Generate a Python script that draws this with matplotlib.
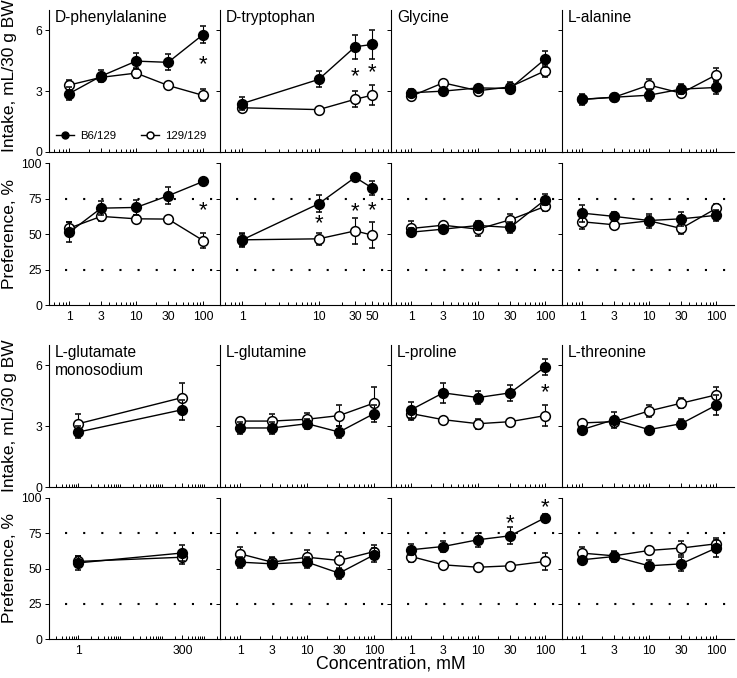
import matplotlib

matplotlib.use("Agg")
import matplotlib.pyplot as plt
from matplotlib.lines import Line2D
from matplotlib.ticker import FixedLocator, LogLocator, NullFormatter

plt.rcParams["font.family"] = ["Liberation Sans", "DejaVu Sans"]

# panels, in reading order
acids = [
    "D-phenylalanine", "D-tryptophan", "Glycine", "L-alanine",
    "L-glutamate\nmonosodium", "L-glutamine", "L-proline", "L-threonine",
]
conc = [
    [1, 3, 10, 30, 100], [1, 10, 30, 50], [1, 3, 10, 30, 100], [1, 3, 10, 30, 100],
    [1, 300], [1, 3, 10, 30, 100], [1, 3, 10, 30, 100], [1, 3, 10, 30, 100],
]

# intake, mL/30 g BW
intake_b6 = [
    [2.88, 3.74, 4.48, 4.42, 5.79], [2.39, 3.58, 5.19, 5.30],
    [2.92, 3.00, 3.16, 3.13, 4.58], [2.59, 2.70, 2.80, 3.10, 3.18],
    [2.71, 3.81], [2.91, 2.91, 3.12, 2.71, 3.62],
    [3.81, 4.64, 4.41, 4.64, 5.92], [2.83, 3.32, 2.83, 3.12, 4.03],
]
intake_b6_err = [
    [0.30, 0.30, 0.40, 0.40, 0.43], [0.30, 0.40, 0.60, 0.70],
    [0.20, 0.08, 0.15, 0.20, 0.40], [0.25, 0.10, 0.30, 0.25, 0.30],
    [0.30, 0.50], [0.30, 0.30, 0.25, 0.30, 0.40],
    [0.40, 0.50, 0.30, 0.40, 0.40], [0.10, 0.40, 0.10, 0.25, 0.50],
]
intake_129 = [
    [3.30, 3.68, 3.89, 3.28, 2.79], [2.18, 2.09, 2.60, 2.80],
    [2.75, 3.41, 3.02, 3.21, 4.00], [2.60, 2.70, 3.30, 2.90, 3.80],
    [3.12, 4.41], [3.25, 3.25, 3.34, 3.52, 4.14],
    [3.62, 3.32, 3.12, 3.22, 3.52], [3.16, 3.22, 3.75, 4.13, 4.54],
]
intake_129_err = [
    [0.25, 0.20, 0.25, 0.10, 0.30], [0.20, 0.10, 0.40, 0.50],
    [0.20, 0.10, 0.20, 0.25, 0.30], [0.15, 0.10, 0.30, 0.20, 0.35],
    [0.50, 0.70], [0.15, 0.35, 0.30, 0.50, 0.80],
    [0.30, 0.10, 0.25, 0.15, 0.50], [0.10, 0.15, 0.30, 0.25, 0.40],
]

# preference, %
pref_b6 = [
    [51.1, 68.2, 68.7, 76.9, 87.0], [45.9, 71.3, 89.9, 82.4],
    [51.3, 53.4, 56.0, 54.6, 74.1], [64.7, 62.4, 59.5, 60.7, 63.1],
    [54.0, 61.0], [54.5, 53.3, 54.5, 46.7, 59.7],
    [63.3, 65.6, 70.4, 73.2, 86.0], [56.2, 58.5, 51.9, 53.3, 64.5],
]
pref_b6_err = [
    [7, 5, 5, 6, 1.5], [5, 6, 1.5, 5],
    [3, 2, 3, 4, 4], [6, 3, 3, 5, 4],
    [5, 6], [4, 4, 4, 4, 5],
    [4, 4, 5, 6, 3], [2, 4, 4, 5, 6],
]
pref_129 = [
    [54.1, 62.4, 60.7, 60.5, 45.4], [45.9, 46.6, 52.2, 49.2],
    [53.9, 56.2, 53.4, 60.0, 69.4], [58.6, 56.5, 59.3, 53.9, 68.0],
    [55.0, 58.0], [60.4, 54.5, 58.0, 55.7, 62.0],
    [58.5, 52.6, 50.9, 51.9, 55.0], [60.9, 59.0, 62.8, 64.5, 67.5],
]
pref_129_err = [
    [4, 3, 3, 2, 5], [4, 4, 9, 9],
    [5, 2, 5, 4, 3], [5, 2, 5, 4, 3],
    [4, 5], [5, 4, 5, 6, 5],
    [4, 2, 2, 2, 6], [4, 3, 2, 5, 4],
]

# significance marks (concentration, value)
intake_stars = [[(100, 4.5)], [(30, 3.87), (50, 4.1)], [], [], [], [], [(100, 4.8)], []]
pref_stars = [[(100, 68.7)], [(10, 59.5), (30, 68.2), (50, 69.0)], [], [], [], [],
              [(30, 84.6), (100, 95.3)], []]

W, H = 737, 678
col_left = [49, 220, 391, 562]
col_w = 172
rows = [(10, 152), (163, 305), (345, 487), (498, 639)]
xlims = [(0.5, 185), (0.51, 91), (0.5, 185), (0.5, 185),
         (0.2, 2500), (0.5, 185), (0.5, 185), (0.5, 185)]

fig = plt.figure(figsize=(W / 100, H / 100), dpi=100)


def make_ax(col, row):
    top, bottom = rows[row]
    return fig.add_axes([col_left[col] / W, 1 - bottom / H, col_w / W, (bottom - top) / H])


def style(ax, xs, xlim, show_xlabels, show_ylabels, yticks):
    ax.set_xscale("log")
    ax.set_xlim(*xlim)
    ax.spines[["top", "right"]].set_visible(False)
    for side in ("left", "bottom"):
        ax.spines[side].set_linewidth(0.8)
    ax.xaxis.set_major_locator(FixedLocator(xs))
    ax.xaxis.set_minor_locator(LogLocator(base=10, subs=range(1, 10), numticks=30))
    ax.xaxis.set_minor_formatter(NullFormatter())
    ax.set_xticklabels([str(v) for v in xs] if show_xlabels else [])
    ax.tick_params(axis="x", which="both", direction="in", width=0.7, labelsize=8.7, pad=4)
    ax.tick_params(axis="x", which="major", length=3)
    ax.tick_params(axis="x", which="minor", length=2.5)
    ax.set_yticks(yticks)
    ax.set_yticklabels([str(v) for v in yticks] if show_ylabels else [])
    ax.tick_params(axis="y", direction="out", length=3, width=0.7, labelsize=8.7, pad=2)


def draw(ax, xs, b6, b6e, w, we):
    common = dict(fmt="-o", color="black", lw=1.0, elinewidth=0.8, capsize=2.5,
                  capthick=0.8, ms=7, mew=1.1, mec="black", clip_on=False)
    ax.errorbar(xs, w, yerr=we, mfc="white", zorder=3, **common)
    ax.errorbar(xs, b6, yerr=b6e, mfc="black", zorder=4, **common)


def stars(ax, marks):
    for x, y in marks:
        ax.annotate("*", (x, y), xytext=(0, -6.5), textcoords="offset points",
                    ha="center", va="baseline", fontsize=16)


for i, name in enumerate(acids):
    g, c = divmod(i, 4)
    xs = conc[i]

    ax_in = make_ax(c, 2 * g)
    draw(ax_in, xs, intake_b6[i], intake_b6_err[i], intake_129[i], intake_129_err[i])
    ax_in.set_ylim(0, 7)
    style(ax_in, xs, xlims[i], False, c == 0, [0, 3, 6])
    stars(ax_in, intake_stars[i])
    ax_in.text(0.035, 1.0, name, transform=ax_in.transAxes, ha="left", va="top",
               fontsize=11.2, linespacing=1.25)

    ax_pr = make_ax(c, 2 * g + 1)
    for level in (25, 75):
        ax_pr.axhline(level, color="black", lw=1.5, linestyle=(1, (1, 7.7)), zorder=1)
    draw(ax_pr, xs, pref_b6[i], pref_b6_err[i], pref_129[i], pref_129_err[i])
    ax_pr.set_ylim(0, 100)
    style(ax_pr, xs, xlims[i], True, c == 0, [0, 25, 50, 75, 100])
    stars(ax_pr, pref_stars[i])

    if i == 0:
        handles = [
            Line2D([], [], color="black", lw=1.0, marker="o", ms=5, mfc="black", mec="black"),
            Line2D([], [], color="black", lw=1.0, marker="o", ms=5, mfc="white", mec="black",
                   mew=1.1),
        ]
        ax_in.legend(handles, ["B6/129", "129/129"], loc="center left",
                     bbox_to_anchor=(0.0, 0.11), ncol=2, frameon=False, fontsize=8.2,
                     handlelength=1.6, handletextpad=0.5, columnspacing=2.2,
                     borderaxespad=0.2)

for yc, label in [(76, "Intake, mL/30 g BW"), (234, "Preference, %"),
                  (416, "Intake, mL/30 g BW"), (568, "Preference, %")]:
    fig.text(10 / W, 1 - yc / H, label, rotation=90, ha="center", va="center", fontsize=12.5)

fig.text(391 / W, 1 - 664 / H, "Concentration, mM", ha="center", va="center", fontsize=12.8)

fig.savefig("out.png", dpi=100)
